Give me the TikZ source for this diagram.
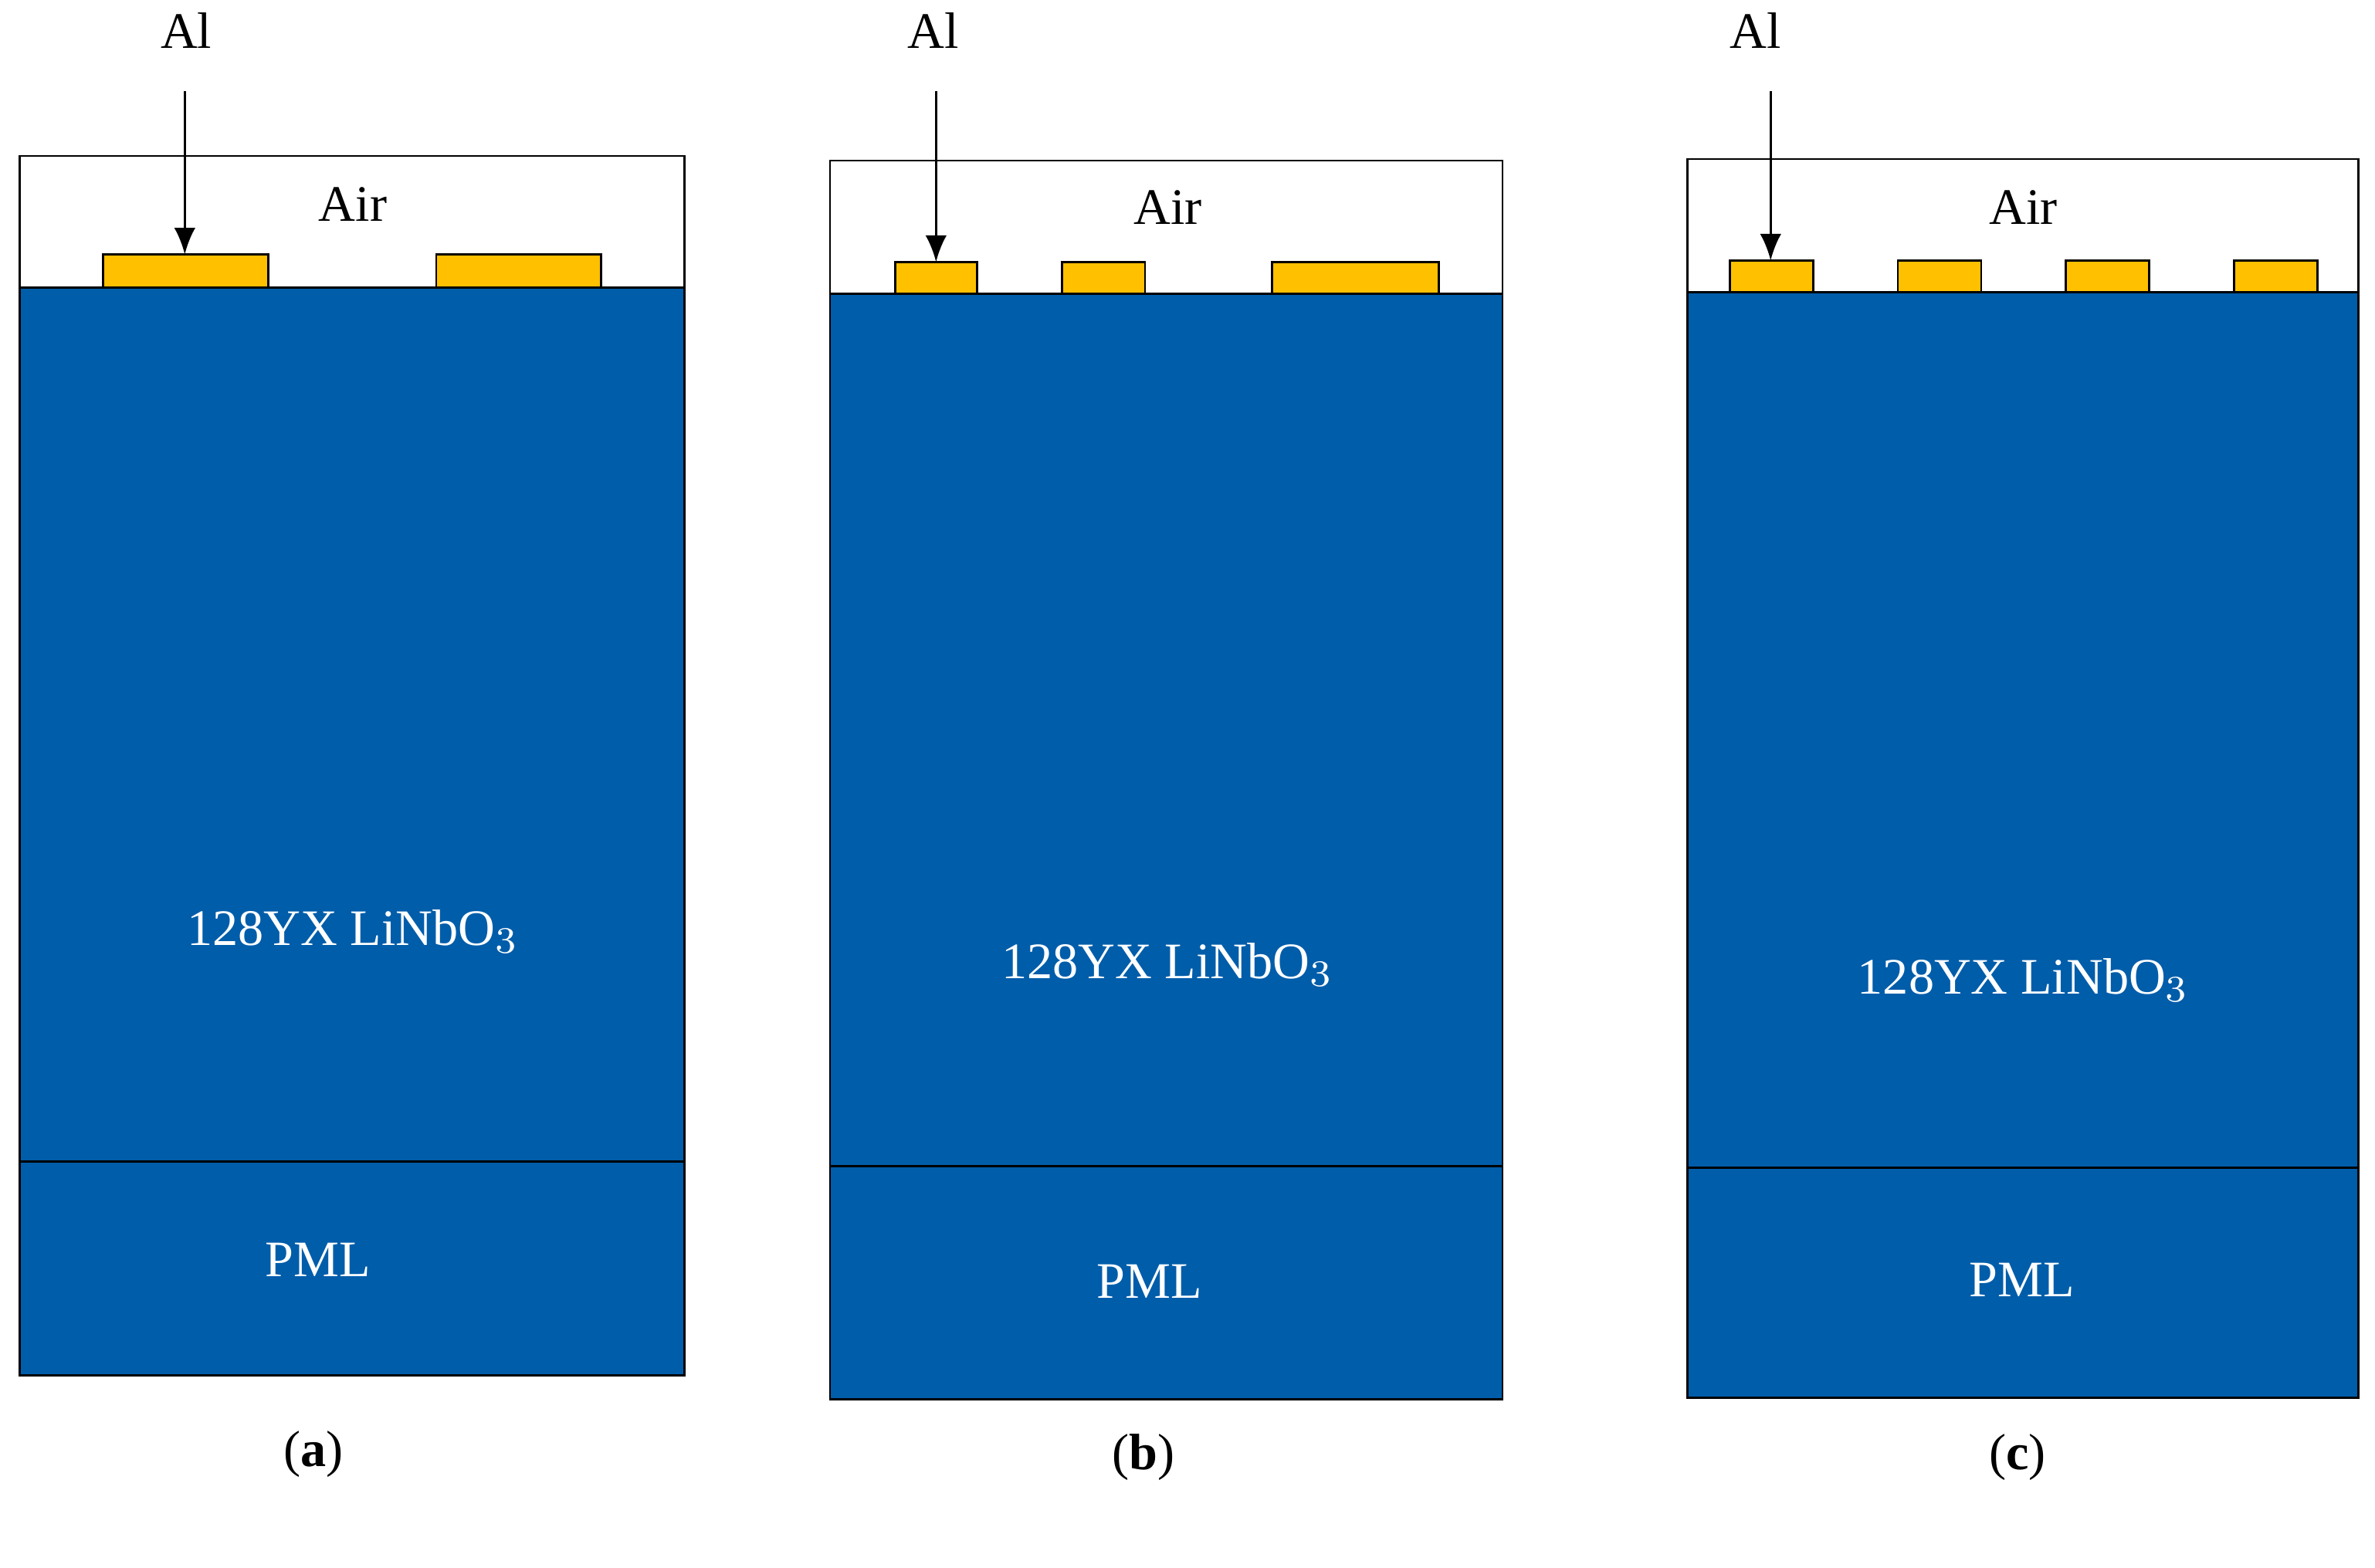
\documentclass[tikz,border=0pt]{standalone}
\usepackage{fontspec}
\setmainfont{Liberation Serif}
\definecolor{substrate}{HTML}{005DAA}
\definecolor{alum}{HTML}{FFC000}
\tikzset{
  lbl/.style={font=\fontsize{9.6}{11}\selectfont},
  wlbl/.style={lbl,text=white},
  layer/.style={fill=substrate,draw=black,line width=0.4pt},
  electrode/.style={fill=alum,draw=black,line width=0.4pt},
  pointer/.style={-{Latex[length=5pt,width=4pt]},line width=0.5pt}
}
\usetikzlibrary{arrows.meta}
\begin{document}
\begin{tikzpicture}[x=0.01cm,y=-0.01cm]
  \useasboundingbox (0,0) rectangle (1568,1035);

  % Panel (a)
  \draw (13,103) rectangle (452,190);
  \draw[layer] (13,190) rectangle (452,767);
  \draw[layer] (13,767) rectangle (452,908);
  \foreach \xl/\xr in {68/177,288/397}
    \draw[electrode] (\xl,168) rectangle (\xr,190);
  \node[lbl] (alA) at (123,20) {Al};
  \coordinate (tipA) at (122,168);
  \draw[pointer] (122,60) -- (tipA);
  \node[lbl] (airA) at (233,135) {Air};
  \node[wlbl] (lnA) at (233,615) {128YX LiNbO$_3$};
  \node[wlbl] (pmlA) at (210,832) {PML};
  \node[lbl] (capA) at (207,960) {(\textbf{a})};

  % Panel (b)
  \draw (548,106) rectangle (992,194);
  \draw[layer] (548,194) rectangle (992,770);
  \draw[layer] (548,770) rectangle (992,924);
  \foreach \xl/\xr in {591/645,701/756,840/950}
    \draw[electrode] (\xl,173) rectangle (\xr,194);
  \node[lbl] (alB) at (616,20) {Al};
  \coordinate (tipB) at (618,173);
  \draw[pointer] (618,60) -- (tipB);
  \node[lbl] (airB) at (771,137) {Air};
  \node[wlbl] (lnB) at (771,637) {128YX LiNbO$_3$};
  \node[wlbl] (pmlB) at (759,846) {PML};
  \node[lbl] (capB) at (755,962) {(\textbf{b})};

  % Panel (c)
  \draw (1114,105) rectangle (1557,193);
  \draw[layer] (1114,193) rectangle (1557,771);
  \draw[layer] (1114,771) rectangle (1557,923);
  \foreach \xl in {1142,1253,1364,1475}
    \draw[electrode] (\xl,172) rectangle ({\xl+55},193);
  \node[lbl] (alC) at (1159,20) {Al};
  \coordinate (tipC) at (1169,172);
  \draw[pointer] (1169,60) -- (tipC);
  \node[lbl] (airC) at (1336,137) {Air};
  \node[wlbl] (lnC) at (1336,647) {128YX LiNbO$_3$};
  \node[wlbl] (pmlC) at (1335,845) {PML};
  \node[lbl] (capC) at (1332,962) {(\textbf{c})};
\end{tikzpicture}
\end{document}
